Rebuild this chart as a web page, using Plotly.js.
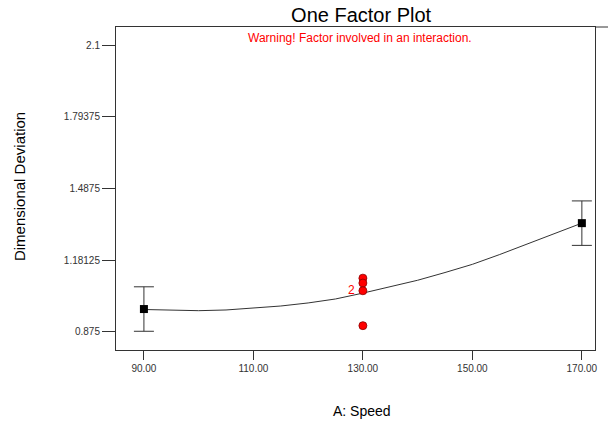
<!DOCTYPE html>
<html>
<head>
<meta charset="utf-8">
<script src="https://cdn.plot.ly/plotly-3.0.1.min.js"></script>
<style>html,body{margin:0;padding:0;background:#fff;}#chart{width:608px;height:423px;}</style>
</head>
<body>
<div id="chart"></div>
<script>
// Predicted curve
const curveX = [90, 95, 100, 105, 110, 115, 120, 125, 130, 135, 140, 145, 150, 155, 160, 165, 170];
const curveY = [0.970, 0.966, 0.965, 0.968, 0.975, 0.985, 0.998, 1.015, 1.040, 1.066, 1.095, 1.128, 1.163, 1.205, 1.250, 1.292, 1.339];

// Means with LSD bars at the end levels
const meanX = [90, 170];
const meanY = [0.972, 1.339];
const meanErr = [0.095, 0.095];

// Design points
const obsX = [130, 130, 130, 130];
const obsY = [1.104, 1.083, 1.050, 0.901];

// Repeat count label
const repX = 130;
const repY = 1.050;
const repText = '2';

const xTicks = [90, 110, 130, 150, 170];
const xTickText = ['90.00', '110.00', '130.00', '150.00', '170.00'];
const yTicks = [0.875, 1.18125, 1.4875, 1.79375, 2.1];
const yTickText = ['0.875', '1.18125', '1.4875', '1.79375', '2.1'];

const traces = [
  {x: curveX, y: curveY, mode: 'lines', type: 'scatter',
   line: {color: '#333', width: 1}, hoverinfo: 'skip'},
  {x: meanX, y: meanY, mode: 'markers', type: 'scatter',
   marker: {symbol: 'square', size: 8, color: '#000'},
   error_y: {type: 'data', array: meanErr, visible: true, color: '#333', thickness: 1, width: 10}},
  {x: obsX, y: obsY, mode: 'markers', type: 'scatter',
   marker: {symbol: 'circle', size: 8, color: '#ff0000', line: {color: '#8a0000', width: 0.8}}}
];

const layout = {
  width: 608, height: 423,
  margin: {l: 116, r: 13, t: 27, b: 73},
  paper_bgcolor: '#fff', plot_bgcolor: '#fff',
  showlegend: false,
  font: {family: 'Arial, Liberation Sans, sans-serif', color: '#333'},
  title: {text: 'One Factor Plot', font: {size: 20, color: '#000'}, x: 0.594, xanchor: 'center', y: 0.964, yanchor: 'middle'},
  xaxis: {
    range: [84.9, 172.4], tickvals: xTicks, ticktext: xTickText,
    ticks: 'outside', ticklen: 9, tickcolor: '#333', tickwidth: 1,
    tickfont: {size: 10, color: '#333'},
    showgrid: false, zeroline: false, showline: true, linecolor: '#333', linewidth: 1, mirror: true
  },
  yaxis: {
    range: [0.797, 2.177], tickvals: yTicks, ticktext: yTickText,
    ticks: 'outside', ticklen: 13, tickcolor: '#333', tickwidth: 1,
    tickfont: {size: 10, color: '#333'},
    showgrid: false, zeroline: false, showline: true, linecolor: '#333', linewidth: 1, mirror: true
  },
  shapes: [
    {type: 'line', xref: 'paper', yref: 'paper', x0: 1, x1: 1.03, y0: 1, y1: 1, line: {color: '#333', width: 1}}
  ],
  annotations: [
    {text: repText, x: repX, y: repY, xref: 'x', yref: 'y', xanchor: 'right', yanchor: 'middle',
     xshift: -6, yshift: 1, showarrow: false, font: {size: 12, color: '#ff0000'}},
    {text: 'Warning! Factor involved in an interaction.', xref: 'paper', yref: 'paper',
     x: 0.51, y: 0.967, xanchor: 'center', yanchor: 'middle', showarrow: false,
     font: {size: 12, color: '#ff0000'}},
    {text: 'Dimensional Deviation', xref: 'paper', yref: 'paper', x: -0.2,
     y: 0.505, xanchor: 'center', yanchor: 'middle', textangle: -90, showarrow: false,
     font: {size: 15, color: '#000'}},
    {text: 'A: Speed', xref: 'paper', yref: 'paper', x: 0.513, y: -0.19,
     xanchor: 'center', yanchor: 'middle', showarrow: false,
     font: {size: 14, color: '#000'}}
  ]
};

Plotly.newPlot('chart', traces, layout, {displayModeBar: false, staticPlot: true});
</script>
</body>
</html>
